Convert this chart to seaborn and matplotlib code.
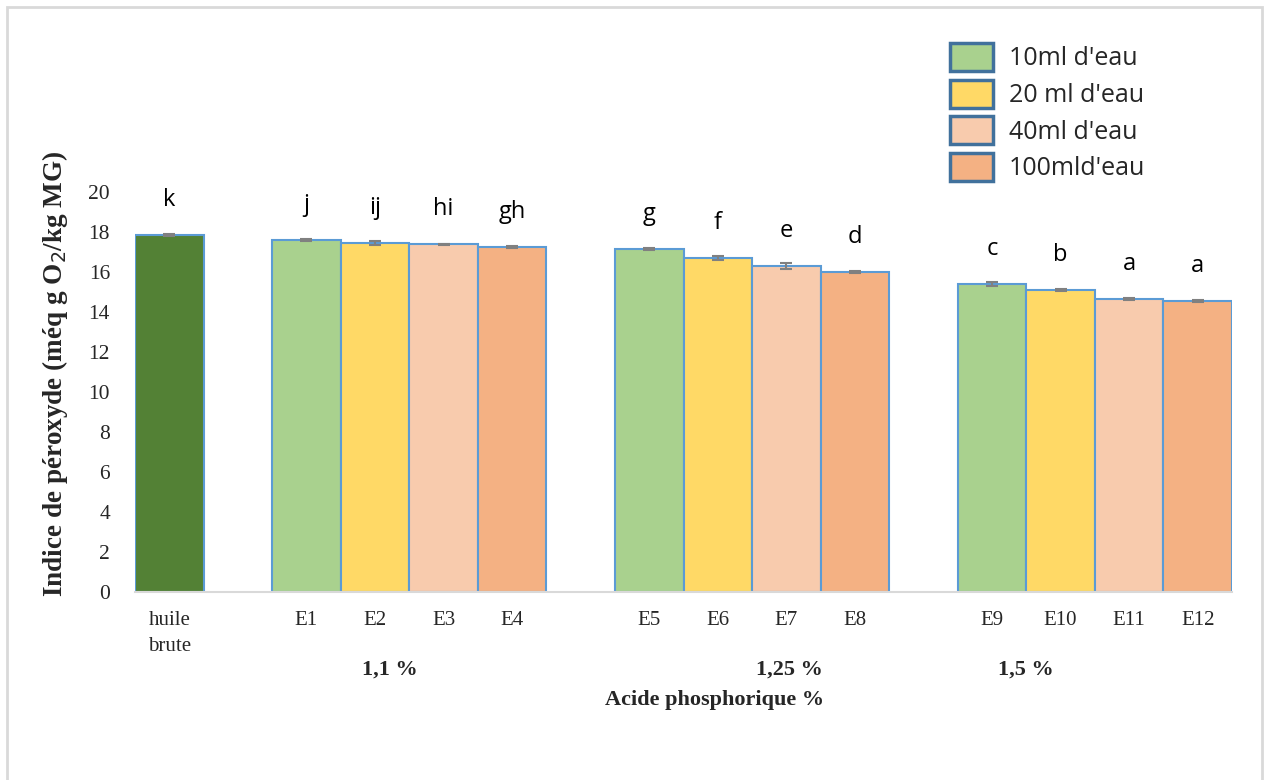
import matplotlib
matplotlib.use("Agg")
import matplotlib.pyplot as plt
from matplotlib.patches import Patch, Rectangle
import seaborn as sns
import pandas as pd
import numpy as np

# ---- data ----
samples = ["huile\nbrute", "E1", "E2", "E3", "E4", "E5", "E6", "E7", "E8",
           "E9", "E10", "E11", "E12"]
water = ["huile brute", "10ml d'eau", "20 ml d'eau", "40ml d'eau", "100mld'eau",
         "10ml d'eau", "20 ml d'eau", "40ml d'eau", "100mld'eau",
         "10ml d'eau", "20 ml d'eau", "40ml d'eau", "100mld'eau"]
values = [17.85, 17.6, 17.45, 17.38, 17.25, 17.15, 16.7, 16.3, 16.0,
          15.4, 15.1, 14.65, 14.55]
errors = [0.05, 0.05, 0.08, 0.04, 0.07, 0.07, 0.12, 0.13, 0.03,
          0.12, 0.04, 0.06, 0.06]
letters = ["k", "j", "ij", "hi", "gh", "g", "f", "e", "d", "c", "b", "a", "a"]
acid_groups = ["1,1 %", "1,25 %", "1,5 %"]
legend_labels = ["10ml d'eau", "20 ml d'eau", "40ml d'eau", "100mld'eau"]
yticks = [0, 2, 4, 6, 8, 10, 12, 14, 16, 18, 20]

colors = {"huile brute": "#538135", "10ml d'eau": "#A9D18E",
          "20 ml d'eau": "#FFD966", "40ml d'eau": "#F8CBAD",
          "100mld'eau": "#F4B183"}

df = pd.DataFrame({"sample": samples, "water": water, "value": values})
order = ["huile\nbrute", "gap1", "E1", "E2", "E3", "E4", "gap2",
         "E5", "E6", "E7", "E8", "gap3", "E9", "E10", "E11", "E12"]

sns.set_style("white")
plt.rcParams["font.family"] = ["Liberation Serif", "DejaVu Serif"]

fig = plt.figure(figsize=(12.64, 7.80), dpi=100)
ax = fig.add_axes([135 / 1264, 188 / 780, 1097 / 1264, 400 / 780])

sns.barplot(data=df, x="sample", y="value", hue="water", order=order,
            palette=colors, dodge=False, width=1.0, errorbar=None,
            saturation=1, edgecolor="#5B9BD5", linewidth=1.5, legend=False,
            ax=ax)

# error bars and letters using bar positions from the axis
xpos = {lab: i for i, lab in enumerate(order)}
xs = [xpos[s] for s in samples]
ax.errorbar(xs, values, yerr=errors, fmt="none", ecolor="#808080",
            elinewidth=1.5, capsize=4, capthick=1.5, zorder=5)
for x, v, l in zip(xs, values, letters):
    ax.text(x, v + 1.75, l, ha="center", va="center", fontsize=17,
            family=["Open Sans", "DejaVu Sans"], color="black")

ax.set_xlim(-0.5, len(order) - 0.5)
ax.set_ylim(0, 20)
ax.set_yticks(yticks)
ax.set_yticklabels([str(t) for t in yticks], fontsize=15.5)
ax.set_xticks(range(len(order)))
ax.set_xticklabels([("" if o.startswith("gap") else o) for o in order],
                   fontsize=15, linespacing=1.45, va="top")
ax.tick_params(axis="both", length=0)
ax.tick_params(axis="y", pad=18)
ax.tick_params(axis="x", pad=14)
ax.set_xlabel("")
ax.set_ylabel("Indice de péroxyde (méq g O$_2$/kg MG)", fontsize=19.5,
              fontweight="bold")
ax.yaxis.set_label_coords(-0.059, 0.545)
for side in ["top", "right", "left"]:
    ax.spines[side].set_visible(False)
ax.spines["bottom"].set_color("#D9D9D9")
ax.spines["bottom"].set_linewidth(1.5)

# group labels
group_centers = [(xpos["E1"] + xpos["E4"]) / 2, (xpos["E5"] + xpos["E8"]) / 2 + 0.55,
                 (xpos["E9"] + xpos["E12"]) / 2 - 1.0]
fig_x = [ax.transData.transform((gx, 0))[0] / fig.bbox.width for gx in group_centers]
fig_x[0] -= 0.015
for fx, g in zip(fig_x, acid_groups):
    fig.text(fx, 1 - 670 / 780, g, ha="center", va="center", fontsize=16,
             fontweight="bold")
fig.text(715 / 1264, 1 - 700 / 780, "Acide phosphorique %", ha="center",
         va="center", fontsize=16, fontweight="bold")

# legend
handles = [Patch(facecolor=colors[l], edgecolor="#41719C", linewidth=2.5)
           for l in legend_labels]
leg = fig.legend(handles, legend_labels, loc="upper left",
                 bbox_to_anchor=(950 / 1264, 1 - 43 / 780), frameon=False,
                 prop={"family": ["Open Sans", "DejaVu Sans"], "size": 18},
                 handlelength=1.7, handleheight=1.35, labelspacing=0.33,
                 handletextpad=0.65, borderaxespad=0, borderpad=0)

# outer border
fig.patches.append(Rectangle((7 / 1264, -0.05), 1255 / 1264, 1.05 - 7 / 780,
                             transform=fig.transFigure, fill=False,
                             edgecolor="#D9D9D9", linewidth=2))

fig.savefig("out.png", dpi=100)
